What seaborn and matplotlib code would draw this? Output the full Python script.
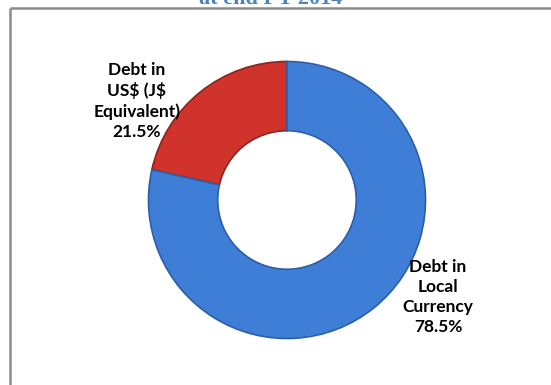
import matplotlib
matplotlib.use("Agg")
import matplotlib.pyplot as plt
import seaborn as sns
from matplotlib.lines import Line2D

# Debt composition at end of FY 2014
categories = ["Debt in\nUS\\$ (J\\$\nEquivalent)", "Debt in\nLocal\nCurrency"]
shares = [21.5, 78.5]
colors = ["#CF332B", "#3F7ED6"]
edge_colors = ["#8E2420", "#2B5EA6"]
title = "at end FY 2014"

sns.set_theme(style="white")
plt.rcParams["font.family"] = ["Lato", "DejaVu Sans"]

W, H = 551, 385
fig = plt.figure(figsize=(W / 100, H / 100), dpi=100)
ax = fig.add_axes([0, 0, 1, 1])

cx, cy, r = 287, H - 200, 138.5
wedges, _ = ax.pie(shares, colors=colors, startangle=90, counterclock=True,
                   center=(cx, cy), radius=r, frame=True,
                   wedgeprops=dict(width=r * 0.5, linewidth=1.2))
for w, ec in zip(wedges, edge_colors):
    w.set_edgecolor(ec)
ax.set_xlim(0, W)
ax.set_ylim(0, H)
ax.set_aspect("equal")
ax.axis("off")

# data labels
label_pos = [(137, H - 101), (438, H - 297)]
for (x, y), cat, v in zip(label_pos, categories, shares):
    ax.text(x, y, f"{cat}\n{v:.1f}%", ha="center", va="center",
            fontsize=12.5, fontweight="bold", color="black", linespacing=1.3)

# chart frame
frame_kw = dict(color="#8C8C8C", linewidth=1.8, solid_capstyle="butt")
ax.add_line(Line2D([10, W], [H - 8, H - 8], **frame_kw))
ax.add_line(Line2D([10, 10], [H - 8, 0], **frame_kw))

# title (partly above the canvas)
ax.text(271, H - 4.5, title, ha="center", va="baseline", fontsize=16,
        fontweight="bold", color="#4F81BD", family="Liberation Serif")

fig.savefig("out.png", dpi=100)
